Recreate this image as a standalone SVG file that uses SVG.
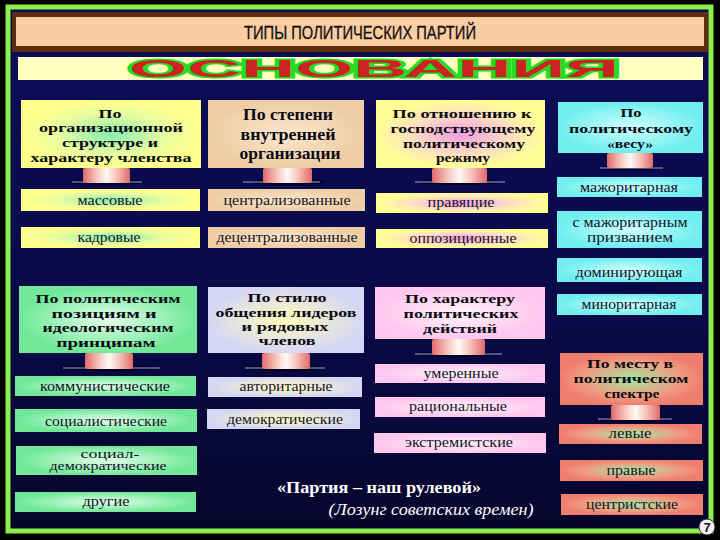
<svg xmlns="http://www.w3.org/2000/svg" width="720" height="540" viewBox="0 0 720 540">
<defs>
<style>
.hd{font-family:"Liberation Serif","DejaVu Serif",serif;font-weight:bold;font-size:13.5px;fill:#0a0a14;text-anchor:middle}
.h3l{font-size:16px}
.it{font-family:"Liberation Serif","DejaVu Serif",serif;font-size:14px;fill:#141428;text-anchor:middle}
.sm{font-size:11.5px}
.ped{fill:url(#gPed)}
.pedsh{fill:#02021e}
.pedhl{stroke:#9aa6dc;stroke-width:1;fill:none}
</style>
<linearGradient id="gBg" x1="0" y1="0" x2="0" y2="1">
<stop offset="0" stop-color="#0c0c58"/>
<stop offset="0.6" stop-color="#0a0a48"/>
<stop offset="1" stop-color="#05052a"/>
</linearGradient>
<linearGradient id="gPed" x1="0" y1="0" x2="1" y2="0">
<stop offset="0" stop-color="#e06a6a"/>
<stop offset="0.3" stop-color="#f8c8c0"/>
<stop offset="0.5" stop-color="#fff8f4"/>
<stop offset="0.7" stop-color="#f8c8c0"/>
<stop offset="1" stop-color="#e06a6a"/>
</linearGradient>
<radialGradient id="gYG"><stop offset="0" stop-color="#88eeb0"/><stop offset="0.6" stop-color="#e8fca0"/><stop offset="1" stop-color="#ffff8c"/></radialGradient>
<radialGradient id="gTan"><stop offset="0" stop-color="#fbe6cc"/><stop offset="1" stop-color="#eecda4"/></radialGradient>
<radialGradient id="gYP"><stop offset="0" stop-color="#f09ce0"/><stop offset="0.6" stop-color="#fde0c0"/><stop offset="1" stop-color="#ffff96"/></radialGradient>
<radialGradient id="gCy"><stop offset="0" stop-color="#d0ffff"/><stop offset="1" stop-color="#70eeee"/></radialGradient>
<radialGradient id="gGr"><stop offset="0" stop-color="#e4ffea"/><stop offset="1" stop-color="#70e898"/></radialGradient>
<radialGradient id="gLav"><stop offset="0" stop-color="#fffcbc"/><stop offset="1" stop-color="#d6d6f4"/></radialGradient>
<radialGradient id="gPk"><stop offset="0" stop-color="#fff4fa"/><stop offset="1" stop-color="#ffc6ee"/></radialGradient>
<radialGradient id="gSa"><stop offset="0" stop-color="#a4e8a0"/><stop offset="0.7" stop-color="#f09a80"/><stop offset="1" stop-color="#f07e6e"/></radialGradient>
</defs>

<rect x="0" y="0" width="720" height="540" fill="#000"/>
<rect x="8" y="7" width="703" height="524" fill="url(#gBg)" stroke="#8cf04c" stroke-width="5"/>

<g id="title">
<rect x="12" y="12" width="696" height="40" fill="#5c2e0e"/>
<rect x="16" y="17" width="688" height="29" fill="#fccca2"/>
<text x="360" y="39" font-family="Liberation Sans, Arial, sans-serif" font-size="18" fill="#111" stroke="#111" stroke-width="0.3" text-anchor="middle" textLength="232" lengthAdjust="spacingAndGlyphs">ТИПЫ ПОЛИТИЧЕСКИХ ПАРТИЙ</text>
</g>

<g id="osnovaniya">
<rect x="18" y="57" width="685" height="23" fill="#ffffc0"/>
<text x="129" y="77" font-family="Liberation Sans, Arial, sans-serif" font-weight="bold" font-size="23" fill="#cc2222" stroke="#22dd22" stroke-width="3" paint-order="stroke" textLength="490" lengthAdjust="spacingAndGlyphs">ОСНОВАНИЯ</text>
</g>

<g id="connectors">
<ellipse class="pedsh" cx="107" cy="182" rx="36" ry="3"/><line class="pedhl" x1="72" y1="182" x2="142" y2="182"/><rect class="ped" x="83" y="168" width="47" height="15" rx="2"/>
<ellipse class="pedsh" cx="287" cy="182" rx="38" ry="3"/><line class="pedhl" x1="243" y1="182" x2="320" y2="182"/><rect class="ped" x="263" y="168" width="49" height="15" rx="2"/>
<ellipse class="pedsh" cx="460" cy="182" rx="40" ry="3"/><line class="pedhl" x1="415" y1="182" x2="505" y2="182"/><rect class="ped" x="432" y="168" width="55" height="15" rx="2"/>
<ellipse class="pedsh" cx="630" cy="168" rx="32" ry="2.5"/><line class="pedhl" x1="600" y1="168" x2="663" y2="168"/><rect class="ped" x="607" y="153" width="46" height="15" rx="2"/>
<ellipse class="pedsh" cx="109" cy="368" rx="48" ry="3"/><line class="pedhl" x1="63" y1="368" x2="160" y2="368"/><rect class="ped" x="85" y="353" width="48" height="16" rx="2"/>
<ellipse class="pedsh" cx="286" cy="368" rx="38" ry="3"/><line class="pedhl" x1="245" y1="368" x2="325" y2="368"/><rect class="ped" x="262" y="353" width="48" height="16" rx="2"/>
<ellipse class="pedsh" cx="458" cy="354" rx="40" ry="3"/><line class="pedhl" x1="415" y1="354" x2="502" y2="354"/><rect class="ped" x="432" y="339" width="53" height="16" rx="2"/>
<ellipse class="pedsh" cx="635" cy="419" rx="36" ry="3"/><line class="pedhl" x1="598" y1="419" x2="672" y2="419"/><rect class="ped" x="611" y="405" width="49" height="15" rx="2"/>
</g>

<g id="h1">
<rect x="21" y="100" width="180" height="68" fill="url(#gYG)"/>
<text class="hd" x="110" y="118" textLength="23" lengthAdjust="spacingAndGlyphs">По</text>
<text class="hd" x="111" y="132" textLength="144" lengthAdjust="spacingAndGlyphs">организационной</text>
<text class="hd" x="110" y="147" textLength="96" lengthAdjust="spacingAndGlyphs">структуре и</text>
<text class="hd" x="111" y="162" textLength="161" lengthAdjust="spacingAndGlyphs">характеру членства</text>
</g>
<g id="n-massovye"><rect x="21" y="189" width="179" height="22" fill="url(#gYG)"/><text class="it" x="110" y="205" textLength="65" lengthAdjust="spacingAndGlyphs">массовые</text></g>
<g id="n-kadrovye"><rect x="21" y="227" width="179" height="21" fill="url(#gYG)"/><text class="it" x="109" y="242" textLength="63" lengthAdjust="spacingAndGlyphs">кадровые</text></g>

<g id="h2">
<rect x="208" y="100" width="156" height="68" fill="url(#gTan)"/>
<text class="hd h3l" x="288" y="120" textLength="90" lengthAdjust="spacingAndGlyphs">По степени</text>
<text class="hd h3l" x="288" y="140" textLength="95" lengthAdjust="spacingAndGlyphs">внутренней</text>
<text class="hd h3l" x="290" y="159" textLength="101" lengthAdjust="spacingAndGlyphs">организации</text>
</g>
<g id="n-central"><rect x="208" y="189" width="157" height="22" fill="url(#gTan)"/><text class="it" x="287" y="205" textLength="127" lengthAdjust="spacingAndGlyphs">централизованные</text></g>
<g id="n-decentral"><rect x="208" y="227" width="157" height="21" fill="url(#gTan)"/><text class="it" x="287" y="242" textLength="141" lengthAdjust="spacingAndGlyphs">децентрализованные</text></g>

<g id="h3">
<rect x="376" y="100" width="169" height="68" fill="url(#gYP)"/>
<text class="hd" x="462" y="118" textLength="139" lengthAdjust="spacingAndGlyphs">По отношению к</text>
<text class="hd" x="463" y="133" textLength="145" lengthAdjust="spacingAndGlyphs">господствующему</text>
<text class="hd" x="464" y="148" textLength="122" lengthAdjust="spacingAndGlyphs">политическому</text>
<text class="hd" x="463" y="162" textLength="54" lengthAdjust="spacingAndGlyphs">режиму</text>
</g>
<g id="n-pravyashchie"><rect x="376" y="193" width="172" height="20" fill="url(#gYP)"/><text class="it" x="461" y="207" textLength="67" lengthAdjust="spacingAndGlyphs">правящие</text></g>
<g id="n-oppoz"><rect x="376" y="229" width="172" height="19" fill="url(#gYP)"/><text class="it" x="463" y="243" textLength="107" lengthAdjust="spacingAndGlyphs">оппозиционные</text></g>

<g id="h4">
<rect x="558" y="102" width="145" height="51" fill="url(#gCy)"/>
<text class="hd" x="631" y="117" textLength="21" lengthAdjust="spacingAndGlyphs">По</text>
<text class="hd" x="631" y="133" textLength="124" lengthAdjust="spacingAndGlyphs">политическому</text>
<text class="hd" x="630" y="148" textLength="46" lengthAdjust="spacingAndGlyphs">«весу»</text>
</g>
<g id="n-major"><rect x="557" y="177" width="145" height="20" fill="url(#gCy)"/><text class="it" x="629" y="192" textLength="98" lengthAdjust="spacingAndGlyphs">мажоритарная</text></g>
<g id="n-major-prizv"><rect x="557" y="211" width="145" height="37" fill="url(#gCy)"/><text class="it" x="630" y="227" textLength="115" lengthAdjust="spacingAndGlyphs">с мажоритарным</text><text class="it" x="630" y="242" textLength="86" lengthAdjust="spacingAndGlyphs">призванием</text></g>
<g id="n-domin"><rect x="557" y="258" width="145" height="24" fill="url(#gCy)"/><text class="it" x="629" y="277" textLength="107" lengthAdjust="spacingAndGlyphs">доминирующая</text></g>
<g id="n-minor"><rect x="557" y="294" width="145" height="21" fill="url(#gCy)"/><text class="it" x="629" y="309" textLength="95" lengthAdjust="spacingAndGlyphs">миноритарная</text></g>

<g id="h5">
<rect x="19" y="286" width="178" height="67" fill="url(#gGr)"/>
<text class="hd" x="108" y="303" textLength="145" lengthAdjust="spacingAndGlyphs">По политическим</text>
<text class="hd" x="104" y="318" textLength="105" lengthAdjust="spacingAndGlyphs">позициям и</text>
<text class="hd" x="108" y="332" textLength="131" lengthAdjust="spacingAndGlyphs">идеологическим</text>
<text class="hd" x="106" y="347" textLength="99" lengthAdjust="spacingAndGlyphs">принципам</text>
</g>
<g id="n-komm"><rect x="15" y="376" width="181" height="20" fill="url(#gGr)"/><text class="it" x="105" y="391" textLength="130" lengthAdjust="spacingAndGlyphs">коммунистические</text></g>
<g id="n-social"><rect x="15" y="409" width="182" height="23" fill="url(#gGr)"/><text class="it" x="106" y="426" textLength="122" lengthAdjust="spacingAndGlyphs">социалистические</text></g>
<g id="n-socdem"><rect x="16" y="446" width="181" height="29" fill="url(#gGr)"/><text class="it sm" x="110" y="458" textLength="59" lengthAdjust="spacingAndGlyphs">социал-</text><text class="it sm" x="108" y="470" textLength="117" lengthAdjust="spacingAndGlyphs">демократические</text></g>
<g id="n-drugie"><rect x="15" y="492" width="181" height="20" fill="url(#gGr)"/><text class="it" x="106" y="506" textLength="47" lengthAdjust="spacingAndGlyphs">другие</text></g>

<g id="h6">
<rect x="208" y="287" width="156" height="66" fill="url(#gLav)"/>
<text class="hd" x="287" y="302" textLength="79" lengthAdjust="spacingAndGlyphs">По стилю</text>
<text class="hd" x="286" y="317" textLength="141" lengthAdjust="spacingAndGlyphs">общения лидеров</text>
<text class="hd" x="285" y="331" textLength="87" lengthAdjust="spacingAndGlyphs">и рядовых</text>
<text class="hd" x="287" y="345" textLength="57" lengthAdjust="spacingAndGlyphs">членов</text>
</g>
<g id="n-avtor"><rect x="208" y="377" width="154" height="20" fill="url(#gLav)"/><text class="it" x="286" y="391" textLength="93" lengthAdjust="spacingAndGlyphs">авторитарные</text></g>
<g id="n-demokr"><rect x="207" y="409" width="153" height="20" fill="url(#gLav)"/><text class="it" x="285" y="424" textLength="116" lengthAdjust="spacingAndGlyphs">демократические</text></g>

<g id="h7">
<rect x="375" y="287" width="170" height="52" fill="url(#gPk)"/>
<text class="hd" x="460" y="303" textLength="110" lengthAdjust="spacingAndGlyphs">По характеру</text>
<text class="hd" x="461" y="318" textLength="115" lengthAdjust="spacingAndGlyphs">политических</text>
<text class="hd" x="460" y="333" textLength="74" lengthAdjust="spacingAndGlyphs">действий</text>
</g>
<g id="n-umer"><rect x="375" y="364" width="170" height="19" fill="url(#gPk)"/><text class="it" x="461" y="378" textLength="75" lengthAdjust="spacingAndGlyphs">умеренные</text></g>
<g id="n-racion"><rect x="375" y="397" width="170" height="20" fill="url(#gPk)"/><text class="it" x="458" y="411" textLength="98" lengthAdjust="spacingAndGlyphs">рациональные</text></g>
<g id="n-extrem"><rect x="374" y="433" width="172" height="20" fill="url(#gPk)"/><text class="it" x="459" y="447" textLength="108" lengthAdjust="spacingAndGlyphs">экстремистские</text></g>

<g id="h8">
<rect x="560" y="353" width="143" height="52" fill="url(#gSa)"/>
<text class="hd" x="630" y="368" textLength="86" lengthAdjust="spacingAndGlyphs">По месту в</text>
<text class="hd" x="631" y="383" textLength="115" lengthAdjust="spacingAndGlyphs">политическом</text>
<text class="hd" x="632" y="398" textLength="55" lengthAdjust="spacingAndGlyphs">спектре</text>
</g>
<g id="n-levye"><rect x="559" y="424" width="143" height="20" fill="url(#gSa)"/><text class="it" x="630" y="438" textLength="43" lengthAdjust="spacingAndGlyphs">левые</text></g>
<g id="n-pravye"><rect x="560" y="460" width="143" height="21" fill="url(#gSa)"/><text class="it" x="631" y="475" textLength="49" lengthAdjust="spacingAndGlyphs">правые</text></g>
<g id="n-centr"><rect x="561" y="494" width="142" height="21" fill="url(#gSa)"/><text class="it" x="632" y="509" textLength="92" lengthAdjust="spacingAndGlyphs">центристские</text></g>

<g id="quote" font-family="Liberation Serif, DejaVu Serif, serif" fill="#ffffff" text-anchor="middle">
<text x="379" y="493" font-size="17" font-weight="bold" textLength="204" lengthAdjust="spacingAndGlyphs">«Партия – наш рулевой»</text>
<text x="431" y="515" font-size="16" font-style="italic" textLength="205" lengthAdjust="spacingAndGlyphs">(Лозунг советских времен)</text>
</g>

<g id="page-number">
<circle cx="707" cy="527" r="8" fill="#f0f0f0" stroke="#333" stroke-width="1"/>
<text x="707" y="532" font-family="Liberation Sans, Arial, sans-serif" font-weight="bold" font-size="13" fill="#1a1a2a" text-anchor="middle">7</text>
</g>
</svg>
